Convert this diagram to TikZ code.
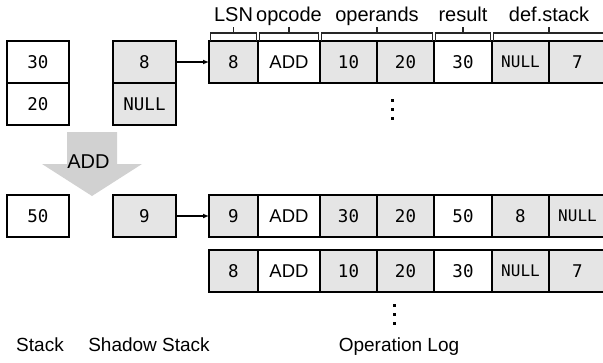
\documentclass[tikz,border=0pt]{standalone}
\usepackage{fontspec}
\setmainfont{Liberation Sans}
\newfontfamily\monof{DejaVu Sans Mono}
\usetikzlibrary{calc,arrows.meta}
\definecolor{cellgray}{gray}{0.9}
\definecolor{arrowgray}{gray}{0.82}
\tikzset{
  cell/.style={draw=black, line width=1.8pt, minimum height=42pt, inner sep=0pt, outer sep=0pt,
    font=\monof\fontsize{17.5}{19}\selectfont},
  wcell/.style={cell, fill=white},
  gcell/.style={cell, fill=cellgray},
  opcell/.style={wcell, font=\fontsize{18.5}{20}\selectfont},
  lbl/.style={anchor=base, font=\fontsize{20}{22}\selectfont, inner sep=0pt},
  caption/.style={anchor=base, font=\fontsize{19}{21}\selectfont, inner sep=0pt},
  bracket/.style={draw=black!85, line width=1.2pt},
  dot/.style={fill=black, minimum size=3pt, inner sep=0pt, draw=none},
  link/.style={-{Latex[length=6pt,width=5pt]}, line width=1.5pt},
}
% one record of the operation log: prefix, y centre, seven fields
\newcommand\logrow[9]{%
  \node[gcell,  minimum width=49pt] (#1c1) at (233.5,#2) {#3};
  \node[opcell, minimum width=62pt] (#1c2) at (289,#2)   {#4};
  \node[gcell,  minimum width=57pt] (#1c3) at (348.5,#2) {#5};
  \node[gcell,  minimum width=57pt] (#1c4) at (405.5,#2) {#6};
  \node[wcell,  minimum width=58pt] (#1c5) at (463,#2)   {#7};
  \node[gcell,  minimum width=57pt] (#1c6) at (520.5,#2) {#8};
  \node[gcell,  minimum width=57pt] (#1c7) at (577.5,#2) {#9};
}
% bracket over the fields from node #1 to node #2, labelled #4
\newcommand\fieldbracket[4]{%
  \draw[bracket] ([xshift=1.5pt]#1.north west) -- ++(0pt,8pt) -| ([xshift=-1.5pt]#2.north east);
  \coordinate (#3) at ($(#1.north west)!0.5!(#2.north east)$);
  \draw[bracket] ([yshift=8pt]#3) -- ++(0pt,6pt);
  \node[lbl] (#3lbl) at ([yshift=20pt]#3) {#4};
}
\newcommand\nulltxt{NULL}
\newcommand\lognull{{\fontsize{16}{18}\selectfont\nulltxt}}
\begin{document}
\begin{tikzpicture}[x=1pt,y=-1pt]
  \useasboundingbox (0,0) rectangle (603,362);

  % before the operation
  \node[wcell, minimum width=62pt] (st1) at (38,62)  {30};
  \node[wcell, minimum width=62pt] (st2) at (38,104) {20};
  \node[gcell, minimum width=63pt] (sh1) at (144.5,62)  {8};
  \node[gcell, minimum width=63pt] (sh2) at (144.5,104) {\nulltxt};

  \logrow{ra}{62}{8}{ADD}{10}{20}{30}{\lognull}{7}
  \draw[link] (sh1.east) -- (rac1.west);

  \fieldbracket{rac1}{rac1}{bLSN}{LSN}
  \fieldbracket{rac2}{rac2}{bop}{opcode}
  \fieldbracket{rac3}{rac4}{boperands}{operands}
  \fieldbracket{rac5}{rac5}{bres}{result}
  \fieldbracket{rac6}{rac7}{bdef}{def.stack}

  \node[dot] (da1) at (392,100) {};
  \node[dot] (da2) at (392,109) {};
  \node[dot] (da3) at (392,118) {};

  % the ADD operation
  \fill[arrowgray] (67,132) -- (117,132) -- (117,164) -- (142,164) -- (92,196)
    -- (42,164) -- (67,164) -- cycle;
  \node[anchor=base, inner sep=0pt, font=\fontsize{20}{22}\selectfont] (opname) at (88.5,168) {ADD};

  % after the operation
  \node[wcell, minimum width=62pt] (st3) at (38,216)    {50};
  \node[gcell, minimum width=63pt] (sh3) at (144.5,216) {9};

  \logrow{rb}{216}{9}{ADD}{30}{20}{50}{8}{\lognull}
  \logrow{rc}{271}{8}{ADD}{10}{20}{30}{\lognull}{7}
  \draw[link] (sh3.east) -- (rbc1.west);

  \node[dot] (db1) at (394,305) {};
  \node[dot] (db2) at (394,314) {};
  \node[dot] (db3) at (394,323) {};

  % captions
  \node[caption] (capstack)  at (40,351)  {Stack};
  \node[caption] (capshadow) at (149,351) {Shadow Stack};
  \node[caption] (caplog)    at (399,351) {Operation Log};
\end{tikzpicture}
\end{document}
